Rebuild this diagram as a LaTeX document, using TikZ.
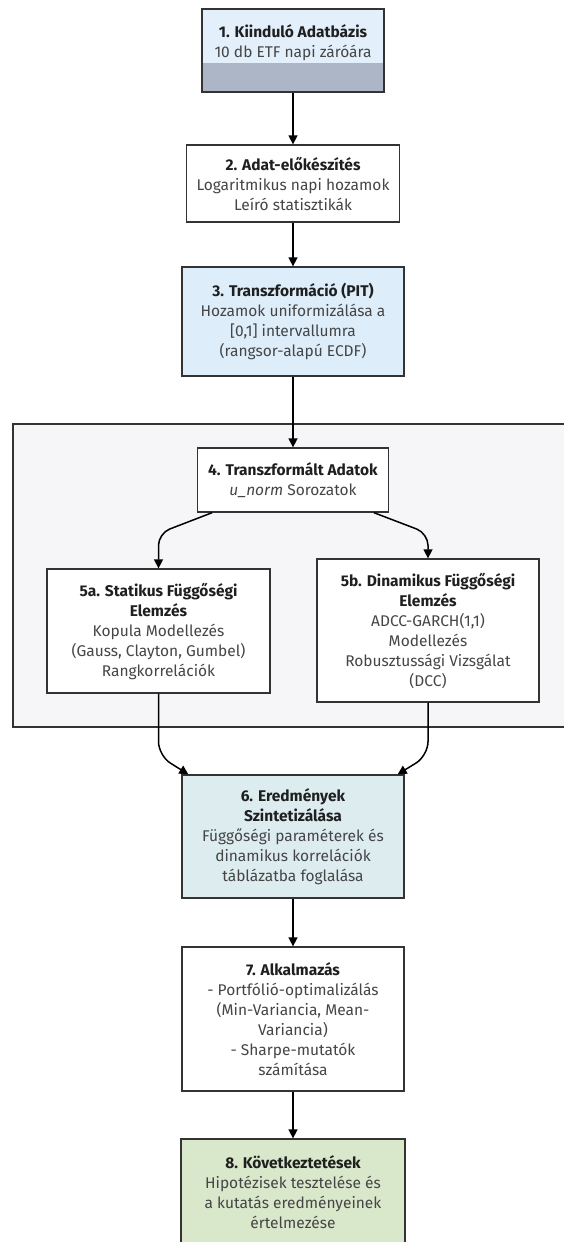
\documentclass[tikz,border=0pt]{standalone}
\usepackage{fontspec}
\setmainfont{Fira Sans}
\usepackage{xcolor}
\usetikzlibrary{positioning, arrows.meta, calc}
\definecolor{edgegray}{HTML}{333333}
\definecolor{titleink}{HTML}{1F1F1F}
\definecolor{bodyink}{HTML}{454545}
\definecolor{startblue}{HTML}{E3EFFB}
\definecolor{startband}{HTML}{ACB6C6}
\definecolor{pitblue}{HTML}{DDEDFA}
\definecolor{groupgray}{HTML}{F6F6F9}
\definecolor{synthcyan}{HTML}{DCECEF}
\definecolor{endgreen}{HTML}{D9E7CB}

\tikzset{
  stepbox/.style={draw=edgegray, line width=1.3pt, fill=white, align=center,
    text=bodyink, font=\fontsize{15.5}{20}\selectfont, inner sep=4pt},
  flow/.style={draw=black, line width=1.5pt, -{Triangle[length=9pt, width=9pt]}},
}
\newcommand{\boxtitle}[1]{\textbf{\color{titleink}#1}}

\begin{document}
\begin{tikzpicture}[x=1pt, y=1pt]
  \useasboundingbox (0,0) rectangle (563,-1242);
  % frame round the dependence analysis
  \node[draw=edgegray, line width=1.3pt, fill=groupgray, minimum width=556,
        minimum height=303, inner sep=0pt] (group) at (291,-575.5) {};

  \node[stepbox, fill=startblue, minimum width=182, minimum height=83, text depth=19pt,
        path picture={\fill[startband] ($(path picture bounding box.south west)+(0,29)$)
          rectangle (path picture bounding box.south east);}]
        (n1) at (293,-50.5) {\boxtitle{1. Kiinduló Adatbázis}\\10 db ETF napi záróára};
  \node[stepbox, minimum width=213, minimum height=77] (n2) at (293,-183.5)
        {\boxtitle{2. Adat-előkészítés}\\Logaritmikus napi hozamok\\Leíró statisztikák};
  \node[stepbox, fill=pitblue, minimum width=222, minimum height=109] (n3) at (293,-321.5)
        {\boxtitle{3. Transzformáció (PIT)}\\Hozamok uniformizálása a\\{[0,1]} intervallumra\\(rangsor-alapú ECDF)};
  \node[stepbox, minimum width=191, minimum height=64] (n4) at (293,-480)
        {\boxtitle{4. Transzformált Adatok}\\\textit{u\_norm} Sorozatok};
  \node[stepbox, minimum width=223, minimum height=124] (n5a) at (158.5,-631)
        {\boxtitle{5a. Statikus Függőségi}\\\boxtitle{Elemzés}\\Kopula Modellezés\\(Gauss, Clayton, Gumbel)\\Rangkorrelációk};
  \node[stepbox, minimum width=222, minimum height=143] (n5b) at (428,-630.5)
        {\boxtitle{5b. Dinamikus Függőségi}\\\boxtitle{Elemzés}\\ADCC-GARCH(1,1)\\Modellezés\\Robusztussági Vizsgálat\\(DCC)};
  \node[stepbox, fill=synthcyan, minimum width=222, minimum height=123] (n6) at (293,-836.5)
        {\boxtitle{6. Eredmények}\\\boxtitle{Szintetizálása}\\Függőségi paraméterek és\\dinamikus korrelációk\\táblázatba foglalása};
  \node[stepbox, minimum width=222, minimum height=144] (n7) at (293,-1019)
        {\boxtitle{7. Alkalmazás}\\- Portfólió-optimalizálás\\(Min-Variancia, Mean-\\Variancia)\\- Sharpe-mutatók\\számítása};
  \node[stepbox, fill=endgreen, minimum width=224, minimum height=106] (n8) at (293,-1192)
        {\boxtitle{8. Következtetések}\\Hipotézisek tesztelése és\\a kutatás eredményeinek\\értelmezése};

  % connectors
  \draw[flow] (n1) -- (n2);
  \draw[flow] (n2) -- (n3);
  \draw[flow] (n3) -- (n4);
  \draw[flow, rounded corners=12pt] (n4.202) -- ($(n5a.north)+(0,35)$) -- (n5a.north);
  \draw[flow, rounded corners=12pt] (n4.338) -- ($(n5b.north)+(0,25)$) -- (n5b.north);
  \draw[flow, rounded corners=14pt] (n5a.south) -- ($(n5a.south)+(0,-62)$) -- ($(n6.north west)+(7,0)$);
  \draw[flow, rounded corners=14pt] (n5b.south) -- ($(n5b.south)+(0,-53)$) -- ($(n6.north east)+(-7,0)$);
  \draw[flow] (n6) -- (n7);
  \draw[flow] (n7) -- (n8);
\end{tikzpicture}
\end{document}
